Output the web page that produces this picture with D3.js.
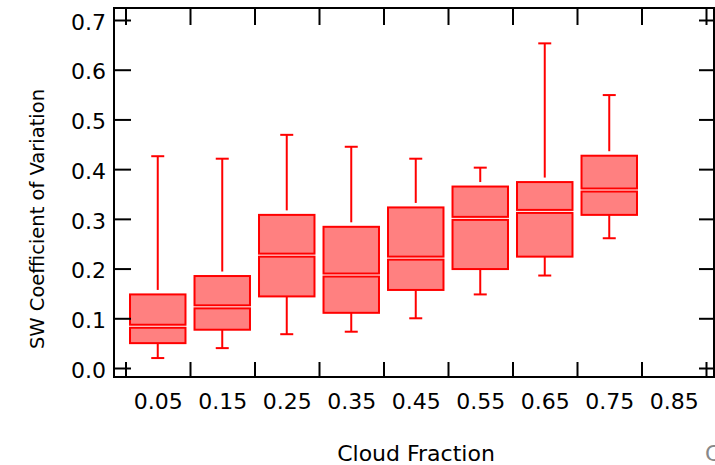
<!DOCTYPE html>
<html>
<head>
<meta charset="utf-8">
<script src="https://cdn.jsdelivr.net/npm/d3@7"></script>
<style>
  html, body { margin: 0; padding: 0; background: #fff; }
  svg { display: block; font-family: "DejaVu Sans", sans-serif; }
</style>
</head>
<body>
<svg id="chart" width="715" height="465"></svg>
<script>
// ---- data ----
const categories   = ["0.05", "0.15", "0.25", "0.35", "0.45", "0.55", "0.65", "0.75", "0.85"];
const boxCenters   = [0.05, 0.15, 0.25, 0.35, 0.45, 0.55, 0.65, 0.75];
const whiskerHigh  = [0.426, 0.421, 0.469, 0.445, 0.421, 0.403, 0.653, 0.549];
const quartile3    = [0.148, 0.185, 0.308, 0.284, 0.323, 0.365, 0.374, 0.427];
const medians      = [0.084, 0.123, 0.227, 0.187, 0.221, 0.301, 0.315, 0.358];
const quartile1    = [0.050, 0.077, 0.144, 0.111, 0.157, 0.199, 0.224, 0.308];
const whiskerLow   = [0.020, 0.040, 0.068, 0.073, 0.100, 0.148, 0.186, 0.261];
const yTickValues  = [0, 0.1, 0.2, 0.3, 0.4, 0.5, 0.6, 0.7];
const xTickValues  = [0, 0.1, 0.2, 0.3, 0.4, 0.5, 0.6, 0.7, 0.8, 0.9];
const xTitle = "Cloud Fraction";
const yTitle = "SW Coefficient of Variation";

const svg = d3.select("#chart");
const frame = {left: 114, right: 714, top: 8, bottom: 377};

const x = d3.scaleLinear().domain([0, 0.9]).range([125.5, 706]);
const y = d3.scaleLinear().domain([0, 0.7]).range([368, 20]);

const boxes = boxCenters.map((c, i) => ({
  c, hi: whiskerHigh[i], q3: quartile3[i], med: medians[i], q1: quartile1[i], lo: whiskerLow[i]
}));

// ---- boxes ----
const boxW = x(0.086) - x(0);
const capW = 13;
const red = "#ff0000";
const g = svg.append("g");
boxes.forEach(b => {
  const cx = x(b.c);
  // upper whisker
  g.append("line").attr("x1", cx).attr("x2", cx)
    .attr("y1", y(b.q3) - 4.5).attr("y2", y(b.hi))
    .attr("stroke", red).attr("stroke-width", 2);
  g.append("line").attr("x1", cx - capW / 2).attr("x2", cx + capW / 2)
    .attr("y1", y(b.hi)).attr("y2", y(b.hi))
    .attr("stroke", red).attr("stroke-width", 2);
  // lower whisker
  g.append("line").attr("x1", cx).attr("x2", cx)
    .attr("y1", y(b.q1)).attr("y2", y(b.lo))
    .attr("stroke", red).attr("stroke-width", 2);
  g.append("line").attr("x1", cx - capW / 2).attr("x2", cx + capW / 2)
    .attr("y1", y(b.lo)).attr("y2", y(b.lo))
    .attr("stroke", red).attr("stroke-width", 2);
  // upper half box
  g.append("rect").attr("x", cx - boxW / 2).attr("width", boxW)
    .attr("y", y(b.q3)).attr("height", Math.max(0, y(b.med) - y(b.q3) - 1.5))
    .attr("fill", "#ff8080").attr("stroke", red).attr("stroke-width", 2);
  // lower half box
  g.append("rect").attr("x", cx - boxW / 2).attr("width", boxW)
    .attr("y", y(b.med) + 1.5).attr("height", Math.max(0, y(b.q1) - y(b.med) - 1.5))
    .attr("fill", "#ff8080").attr("stroke", red).attr("stroke-width", 2);
});

// ---- axes ----
function styleAxis(sel) {
  sel.select(".domain").remove();
  sel.selectAll(".tick line").attr("stroke", "#000").attr("stroke-width", 2);
  sel.selectAll(".tick text").attr("fill", "#000")
    .style("font-family", "'DejaVu Sans', sans-serif").style("font-size", "22px");
}

svg.append("g").attr("transform", `translate(${frame.left},0)`)
  .call(d3.axisLeft(y).tickValues(yTickValues).tickFormat(d3.format(".1f"))
    .tickSizeInner(-17).tickSizeOuter(0).tickPadding(8))
  .call(styleAxis)
  .call(s => s.selectAll(".tick text").attr("dy", "0.42em"));

svg.append("g").attr("transform", `translate(${frame.right},0)`)
  .call(d3.axisRight(y).tickValues(yTickValues).tickFormat("")
    .tickSizeInner(-15).tickSizeOuter(0))
  .call(styleAxis);

svg.append("g").attr("transform", `translate(0,${frame.bottom})`)
  .call(d3.axisBottom(x).tickValues(xTickValues).tickFormat("")
    .tickSizeInner(-15).tickSizeOuter(0))
  .call(styleAxis);

svg.append("g").attr("transform", `translate(0,${frame.top})`)
  .call(d3.axisTop(x).tickValues(xTickValues).tickFormat("")
    .tickSizeInner(-17).tickSizeOuter(0))
  .call(styleAxis);

// category labels
svg.append("g").attr("transform", `translate(0,${frame.bottom})`)
  .call(d3.axisBottom(x).tickValues(categories.map(Number))
    .tickFormat((d, i) => categories[i]).tickSize(0).tickPadding(16))
  .call(styleAxis);

// frame
svg.append("rect")
  .attr("x", frame.left).attr("y", frame.top)
  .attr("width", frame.right - frame.left).attr("height", frame.bottom - frame.top)
  .attr("fill", "none").attr("stroke", "#000").attr("stroke-width", 2);

// titles
svg.append("text").attr("x", 416).attr("y", 461)
  .attr("text-anchor", "middle").style("font-size", "22px").attr("fill", "#000")
  .text(xTitle);

svg.append("text").attr("transform", "translate(44,219) rotate(-90)")
  .attr("text-anchor", "middle").style("font-size", "19.5px").attr("fill", "#000")
  .text(yTitle);

// partially visible text at the right edge (cut off in the reference too)
svg.append("text").attr("x", 705).attr("y", 461)
  .style("font-size", "22px").attr("fill", "#888").text("C");
</script>
</body>
</html>
